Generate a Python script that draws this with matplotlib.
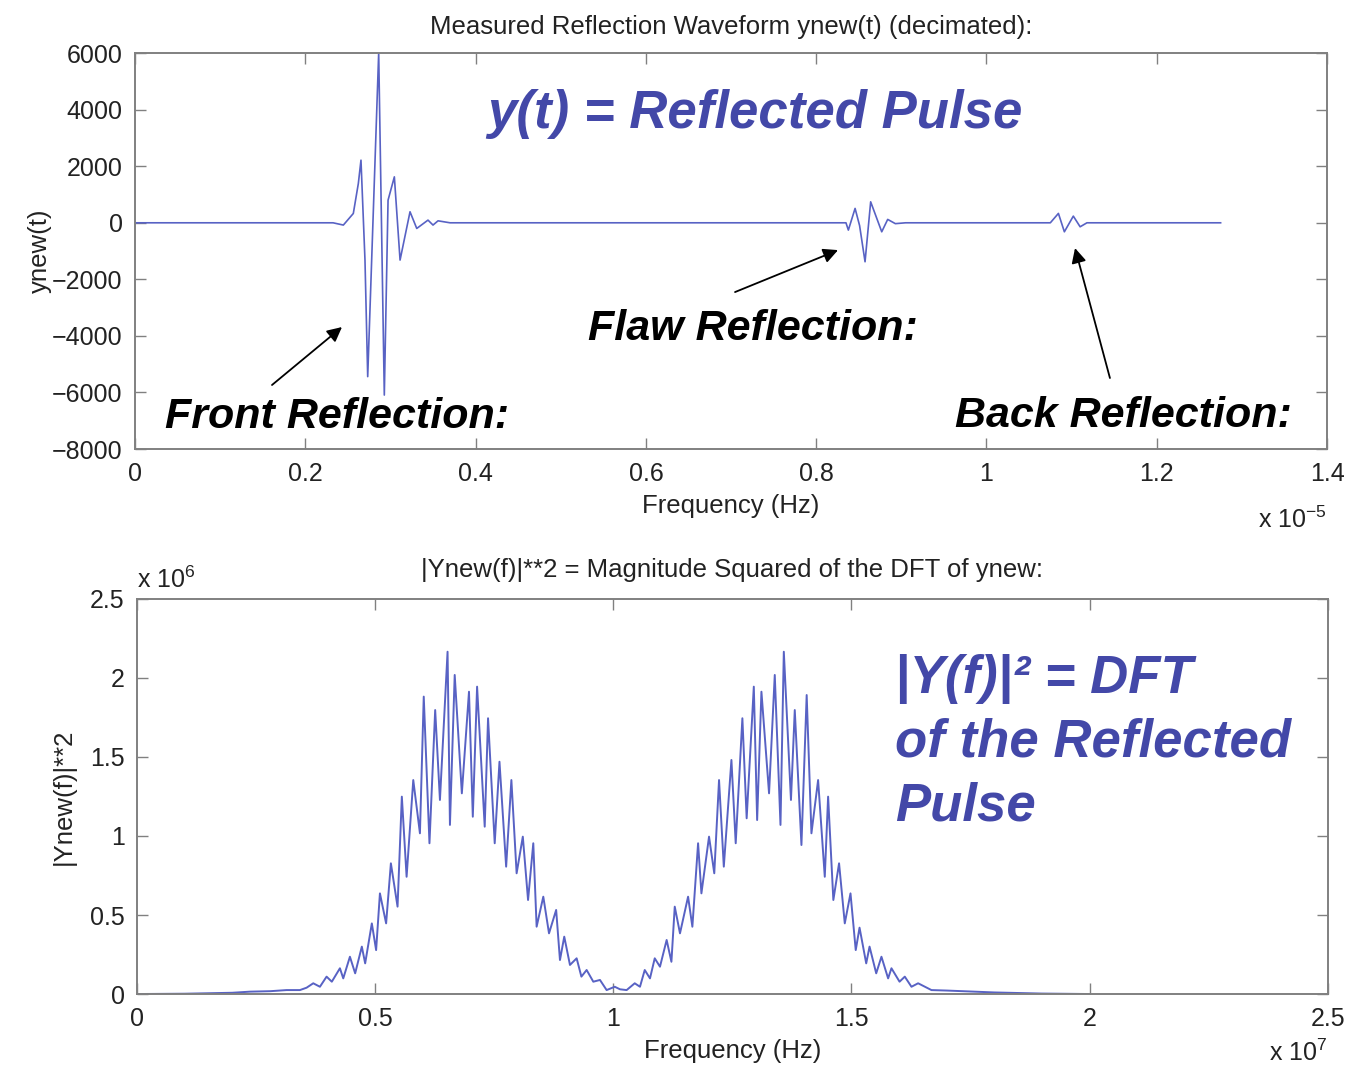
import matplotlib
matplotlib.use("Agg")
import matplotlib.pyplot as plt

plt.rcParams["font.family"] = ["Liberation Sans", "DejaVu Sans"]
plt.rcParams["mathtext.fontset"] = "custom"
plt.rcParams["mathtext.rm"] = "Liberation Sans"
plt.rcParams["mathtext.it"] = "Liberation Sans:italic"

# --- top panel: reflected waveform, t in units of 1e-5 s ---
T_EXP = -5
t_vals = [0.0, 0.2326, 0.2447, 0.2564, 0.2623, 0.2654, 0.2701, 0.2733, 0.2862,
          0.2928, 0.2972, 0.3046, 0.3113, 0.3230, 0.3309, 0.3441, 0.3500, 0.3559,
          0.370, 0.835, 0.8378, 0.8457, 0.851, 0.8574, 0.864, 0.877, 0.884,
          0.893, 0.905, 1.075, 1.0845, 1.0915, 1.102, 1.110, 1.118, 1.275]
y_vals = [0, 0, -80, 330, 1390, 2215, -1318, -5440, 6000,
          -6090, 800, 1625, -1318, 390, -200, 95, -80, 70,
          0, 0, -258, 509, -100, -1378, 742, -318, 120,
          -30, 0, 0, 332, -318, 237, -141, 0, 0]

top_xticks = [0, 0.2, 0.4, 0.6, 0.8, 1.0, 1.2, 1.4]
top_yticks = [-8000, -6000, -4000, -2000, 0, 2000, 4000, 6000]

# --- bottom panel: |Y(f)|^2, f in units of 1e7 Hz, values in units of 1e6 ---
F_EXP = 7
P_EXP = 6
f_vals = [0.0, 0.10, 0.20, 0.237, 0.28, 0.314, 0.342, 0.356, 0.370, 0.384,
          0.398, 0.409, 0.426, 0.433, 0.447, 0.458, 0.472, 0.479, 0.493, 0.502,
          0.510, 0.523, 0.533, 0.547, 0.556, 0.566, 0.580, 0.594, 0.602, 0.614,
          0.626, 0.636, 0.652, 0.657, 0.667, 0.682, 0.697, 0.705, 0.714, 0.730,
          0.737, 0.751, 0.761, 0.775, 0.786, 0.797, 0.810, 0.821, 0.832, 0.839,
          0.853, 0.865, 0.880, 0.888, 0.897, 0.909, 0.923, 0.933, 0.944, 0.958,
          0.972, 0.986, 1.003, 1.014, 1.028, 1.045, 1.056, 1.066, 1.077, 1.087,
          1.098, 1.112, 1.122, 1.129, 1.140, 1.157, 1.166, 1.178, 1.185, 1.201,
          1.212, 1.222, 1.232, 1.248, 1.257, 1.271, 1.280, 1.295, 1.302, 1.311,
          1.327, 1.339, 1.351, 1.358, 1.373, 1.381, 1.395, 1.406, 1.416, 1.430,
          1.444, 1.451, 1.462, 1.474, 1.486, 1.498, 1.509, 1.517, 1.531, 1.538,
          1.552, 1.563, 1.577, 1.584, 1.601, 1.612, 1.626, 1.640, 1.668, 1.70,
          1.75, 1.80, 1.90, 2.0]
p_vals = [0.0, 0.002, 0.008, 0.015, 0.018, 0.025, 0.025, 0.040, 0.068, 0.046,
          0.110, 0.078, 0.163, 0.099, 0.236, 0.131, 0.300, 0.194, 0.447, 0.278,
          0.637, 0.447, 0.827, 0.553, 1.249, 0.742, 1.354, 1.017, 1.882, 0.954,
          1.797, 1.228, 2.166, 1.070, 2.019, 1.270, 1.913, 1.122, 1.945, 1.059,
          1.745, 0.954, 1.470, 0.806, 1.354, 0.764, 0.996, 0.595, 0.954, 0.426,
          0.616, 0.384, 0.532, 0.215, 0.363, 0.184, 0.226, 0.110, 0.152, 0.078,
          0.089, 0.025, 0.046, 0.030, 0.025, 0.068, 0.046, 0.152, 0.099, 0.226,
          0.173, 0.342, 0.204, 0.553, 0.384, 0.616, 0.426, 0.954, 0.637, 0.996,
          0.764, 1.354, 0.806, 1.481, 0.954, 1.745, 1.112, 1.945, 1.101, 1.913,
          1.270, 2.019, 1.070, 2.166, 1.228, 1.797, 0.943, 1.892, 1.017, 1.354,
          0.742, 1.249, 0.595, 0.827, 0.447, 0.637, 0.278, 0.420, 0.194, 0.300,
          0.131, 0.236, 0.099, 0.163, 0.078, 0.110, 0.046, 0.068, 0.025, 0.022,
          0.016, 0.010, 0.003, 0.0]

bot_xticks = [0, 0.5, 1.0, 1.5, 2.0, 2.5]
bot_yticks = [0, 0.5, 1.0, 1.5, 2.0, 2.5]

LINE_C = "#5862c4"
NOTE_C = "#4348a8"
TXT_C = "#222222"
FRAME_C = "#808080"
SMALL = 18


def style_axes(ax, xt, yt):
    ax.set_xticks(xt)
    ax.set_yticks(yt)
    ax.set_xticklabels([f"{v:g}" for v in xt])
    ax.set_yticklabels([f"{v:g}".replace("-", "\u2212") for v in yt])
    ax.tick_params(direction="in", top=True, right=True, length=8, width=1,
                   color=FRAME_C, labelsize=SMALL, labelcolor=TXT_C, pad=9)
    for s in ax.spines.values():
        s.set_color(FRAME_C)
        s.set_linewidth(1.4)


fig = plt.figure(figsize=(13.5, 10.73), dpi=100)

ax1 = fig.add_axes([0.100, 0.5815, 0.883, 0.369])
ax1.plot(t_vals, y_vals, color=LINE_C, lw=1.2)
ax1.set_xlim(0, 1.4)
ax1.set_ylim(-8000, 6000)
style_axes(ax1, top_xticks, top_yticks)
ax1.set_title("Measured Reflection Waveform ynew(t) (decimated):",
              fontsize=18.5, color=TXT_C, pad=14)
ax1.set_xlabel("Frequency (Hz)", fontsize=18.5, color=TXT_C, labelpad=6)
ax1.set_ylabel("ynew(t)", fontsize=18.5, color=TXT_C, labelpad=0)
ax1.text(1.0, -0.145, f"x 10$^{{{T_EXP}}}$", transform=ax1.transAxes,
         ha="right", va="top", fontsize=SMALL, color=TXT_C)

big = dict(fontweight="bold", fontstyle="italic")
ax1.text(0.4134, 3346, "y(t) = Reflected Pulse", color=NOTE_C, fontsize=38,
         va="baseline", ha="left", **big)
ax1.text(0.035, -7254, "Front Reflection:", color="black", fontsize=31,
         va="baseline", ha="left", **big)
ax1.text(0.532, -4145, "Flaw Reflection:", color="black", fontsize=31,
         va="baseline", ha="left", **big)
ax1.text(0.963, -7219, "Back Reflection:", color="black", fontsize=31,
         va="baseline", ha="left", **big)

arrow = dict(arrowstyle="-|>", color="black", lw=1.3, mutation_scale=22,
             shrinkA=0, shrinkB=0)
ax1.annotate("", xy=(0.2431, -3686), xytext=(0.1609, -5735), arrowprops=arrow)
ax1.annotate("", xy=(0.8257, -965), xytext=(0.7047, -2449), arrowprops=arrow)
ax1.annotate("", xy=(1.104, -894), xytext=(1.145, -5488), arrowprops=arrow)

ax2 = fig.add_axes([0.1015, 0.0736, 0.882, 0.3682])
ax2.plot(f_vals, p_vals, color=LINE_C, lw=1.4)
ax2.set_xlim(0, 2.5)
ax2.set_ylim(0, 2.5)
style_axes(ax2, bot_xticks, bot_yticks)
ax2.set_title("|Ynew(f)|**2 = Magnitude Squared of the DFT of ynew:",
              fontsize=18.5, color=TXT_C, pad=16)
ax2.set_xlabel("Frequency (Hz)", fontsize=18.5, color=TXT_C, labelpad=6)
ax2.set_ylabel("|Ynew(f)|**2", fontsize=18.5, color=TXT_C, labelpad=10)
ax2.text(0.0, 1.015, f"x 10$^{{{P_EXP}}}$", transform=ax2.transAxes,
         ha="left", va="bottom", fontsize=SMALL, color=TXT_C)
ax2.text(1.0, -0.115, f"x 10$^{{{F_EXP}}}$", transform=ax2.transAxes,
         ha="right", va="top", fontsize=SMALL, color=TXT_C)

ax2.text(1.591, 1.905, "|Y(f)|\u00b2 = DFT", color=NOTE_C, fontsize=38,
         va="baseline", ha="left", **big)
ax2.text(1.591, 1.500, "of the Reflected", color=NOTE_C, fontsize=38,
         va="baseline", ha="left", **big)
ax2.text(1.591, 1.101, "Pulse", color=NOTE_C, fontsize=38,
         va="baseline", ha="left", **big)

fig.savefig("out.png", dpi=100)
